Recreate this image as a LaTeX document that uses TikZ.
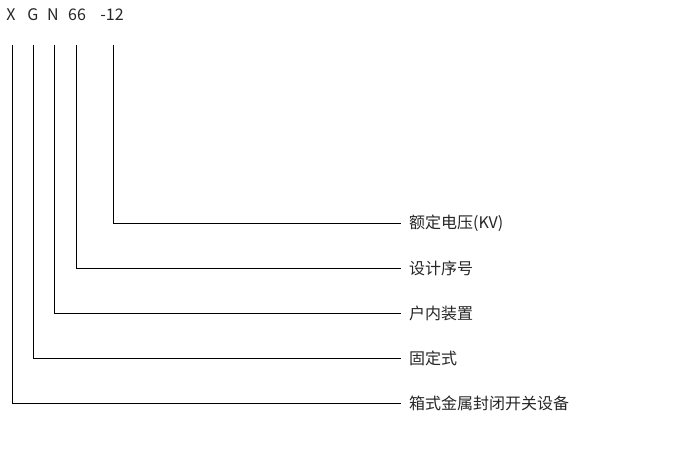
\documentclass[tikz,border=0pt]{standalone}
\usepackage{fontspec}
\setmainfont{Noto Sans CJK SC}
\begin{document}
\begin{tikzpicture}[x=1pt,y=-1pt,
    code/.style={font=\fontsize{16}{19}\selectfont, text=black!85, inner sep=0pt},
    label/.style={font=\fontsize{16}{19}\selectfont, text=black!85, anchor=west, inner xsep=8pt, inner ysep=0pt}]
        \useasboundingbox (0,0) rectangle (677,455);
        \node[code] (x) at (11,15) {X};
        \node[code] (g) at (33,15) {G};
        \node[code] (n) at (53,15) {N};
        \node[code] (num) at (77,15) {66};
        \node[code] (volt) at (112,15) {-12};
        \coordinate (x0) at (12.7,45);
        \coordinate (g0) at (33.7,45);
        \coordinate (n0) at (54.7,45);
        \coordinate (num0) at (76.7,45);
        \coordinate (volt0) at (113.7,45);
        \node[label] (l1) at (401,223) {额定电压(KV)};
        \node[label] (l2) at (401,268) {设计序号};
        \node[label] (l3) at (401,313) {户内装置};
        \node[label] (l4) at (401,358) {固定式};
        \node[label] (l5) at (401,403) {箱式金属封闭开关设备};
        \draw[line width=1.2pt] (volt0) |- ([yshift=-0.7pt]l1.west);
        \draw[line width=1.2pt] (num0) |- ([yshift=-0.7pt]l2.west);
        \draw[line width=1.2pt] (n0) |- ([yshift=-0.7pt]l3.west);
        \draw[line width=1.2pt] (g0) |- ([yshift=-0.7pt]l4.west);
        \draw[line width=1.2pt] (x0) |- ([yshift=-0.7pt]l5.west);
    \end{tikzpicture}
\end{document}
